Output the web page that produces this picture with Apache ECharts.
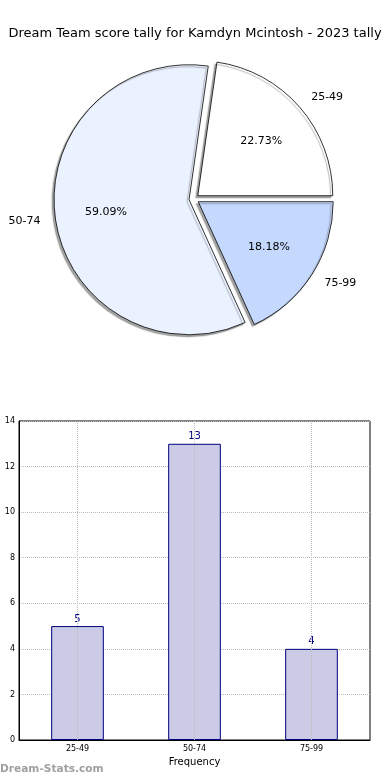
<!DOCTYPE html>
<html>
<head>
<meta charset="utf-8">
<script src="https://cdn.jsdelivr.net/npm/echarts@6/dist/echarts.min.js"></script>
<style>html,body{margin:0;padding:0;background:#fff;}#c{width:390px;height:780px;}</style>
</head>
<body>
<div id="c"></div>
<script>
const titleText = 'Dream Team score tally for Kamdyn Mcintosh - 2023 tally';
const categories = ['25-49', '50-74', '75-99'];
const counts = [5, 13, 4];
const pieColors = ['#ffffff', '#eaf1ff', '#c5d9ff'];
const yTicks = [0, 2, 4, 6, 8, 10, 12, 14];
const xAxisName = 'Frequency';
const yAxisName = 'Points tally';
const watermark = 'Dream-Stats.com';

const FONT = 'DejaVu Sans';
const PC = [194, 199];
const R = 135;

const pieData = categories.map((c, i) => ({
  name: c, value: counts[i], selected: true,
  itemStyle: { color: pieColors[i] }
}));
const overlayData = categories.map((c, i) => ({
  name: c, value: counts[i], selected: true,
  itemStyle: { color: 'rgba(0,0,0,0)', borderWidth: 0 }
}));

const chart = echarts.init(document.getElementById('c'), null, { renderer: 'canvas' });
chart.setOption({
  animation: false,
  backgroundColor: '#fff',
  title: {
    text: titleText, left: 'center', top: 22,
    textStyle: { fontFamily: FONT, fontSize: 13, fontWeight: 'normal', color: '#000' }
  },
  grid: {
    left: 19, right: 20, top: 421, bottom: 40,
    containLabel: false, outerBoundsMode: 'none',
    show: true, borderColor: '#000', borderWidth: 1, backgroundColor: 'transparent'
  },
  xAxis: {
    type: 'category', data: categories,
    name: xAxisName, nameLocation: 'middle', nameGap: 17,
    nameTextStyle: { fontFamily: FONT, fontSize: 10, color: '#000' },
    axisLine: { lineStyle: { color: '#000', width: 1 } },
    axisTick: { show: false },
    axisLabel: { fontFamily: FONT, fontSize: 8, color: '#000', margin: 5 },
    splitLine: { show: false }
  },
  yAxis: {
    type: 'value', min: yTicks[0], max: yTicks[yTicks.length - 1], interval: 2,
    name: yAxisName, nameLocation: 'middle', nameGap: 14, nameRotate: 90,
    nameTextStyle: { fontFamily: FONT, fontSize: 10, color: '#000' },
    axisLine: { show: true, lineStyle: { color: '#000', width: 1 } },
    axisTick: { show: false },
    axisLabel: { fontFamily: FONT, fontSize: 8, color: '#000', margin: 4 },
    splitLine: { show: true, lineStyle: { color: '#bbb', type: 'dotted', width: 1 } }
  },
  series: [
    {
      type: 'pie', center: PC, radius: [0, R],
      startAngle: 0, clockwise: false,
      selectedMode: 'multiple', selectedOffset: 5,
      avoidLabelOverlap: false,
      emphasis: { disabled: true }, silent: true,
      itemStyle: {
        borderColor: '#000', borderWidth: 0.8,
        shadowColor: 'rgba(90,90,90,0.55)', shadowBlur: 1, shadowOffsetX: -2, shadowOffsetY: 2
      },
      label: {
        show: true, position: 'outside', formatter: '{b}', distanceToLabelLine: 0,
        fontFamily: FONT, fontSize: 11, color: '#000'
      },
      labelLine: { show: false, length: 15, length2: 0 },
      data: pieData, z: 2
    },
    {
      type: 'pie', center: PC, radius: [0, R * 1.2],
      startAngle: 0, clockwise: false,
      selectedMode: 'multiple', selectedOffset: 5,
      avoidLabelOverlap: false,
      emphasis: { disabled: true }, silent: true,
      itemStyle: { color: 'rgba(0,0,0,0)', borderWidth: 0 },
      label: {
        show: true, position: 'inside',
        formatter: p => p.percent.toFixed(2) + '%',
        fontFamily: FONT, fontSize: 11, color: '#000'
      },
      labelLine: { show: false },
      data: overlayData, z: 3
    },
    {
      type: 'bar', data: counts, barWidth: '45%',
      itemStyle: { color: '#cbcbe5', borderColor: '#000080', borderWidth: 1 },
      label: { show: true, position: 'top', distance: 2, fontFamily: FONT, fontSize: 10, color: '#000080' },
      emphasis: { disabled: true },
      markLine: {
        silent: true, symbol: 'none', label: { show: false },
        lineStyle: { color: '#bbb', type: 'dotted', width: 1 },
        data: categories.map(c => ({ xAxis: c }))
      },
      z: 2
    }
  ],
  graphic: [{
    type: 'text', left: 0, top: 764,
    style: { text: watermark, fontFamily: FONT, fontSize: 10.6, fontWeight: 'bold', fill: '#a0a0a0' }
  }]
});
</script>
</body>
</html>
